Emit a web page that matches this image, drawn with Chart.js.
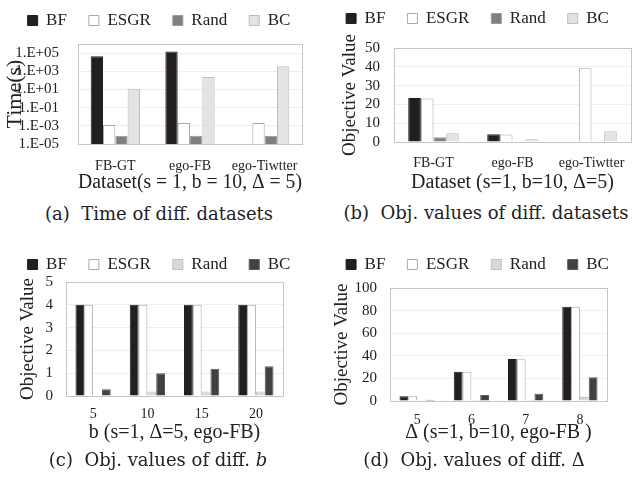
<!DOCTYPE html>
<html>
<head>
<meta charset="utf-8">
<script src="https://cdn.jsdelivr.net/npm/chart.js"></script>
<style>
  body { margin: 0; background: #fff; width: 637px; height: 478px; position: relative; overflow: hidden; }
  .panel { position: absolute; }
  .cap { position: absolute; font-family: "DejaVu Serif", serif; font-size: 18px; color: #222; white-space: pre; transform: translate(-50%, -50%); }
</style>
</head>
<body>
<div class="panel" style="left:0;top:0;width:318px;height:200px"><canvas id="chartA"></canvas></div>
<div class="panel" style="left:318px;top:0;width:319px;height:200px"><canvas id="chartB"></canvas></div>
<div class="panel" style="left:0;top:240px;width:318px;height:210px"><canvas id="chartC"></canvas></div>
<div class="panel" style="left:318px;top:240px;width:319px;height:210px"><canvas id="chartD"></canvas></div>

<div class="cap" style="left:159px;top:213px">(a)  Time of diff. datasets</div>
<div class="cap" style="left:486px;top:212px">(b)  Obj. values of diff. datasets</div>
<div class="cap" style="left:158px;top:459px">(c)  Obj. values of diff. <i>b</i></div>
<div class="cap" style="left:474px;top:459px">(d)  Obj. values of diff. Δ</div>

<script>
// data
const datasets = ['FB-GT', 'ego-FB', 'ego-Tiwtter'];
const methods = ['BF', 'ESGR', 'Rand', 'BC'];

// (a) running time, seconds (log axis)
const timeBF   = [46000, 150000, null];
const timeESGR = [0.0012, 0.002, 0.002];
const timeRand = [0.00008, 0.00008, 0.00008];
const timeBC   = [12, 230, 3600];
const timeTicks = [1e-5, 1e-3, 1e-1, 1e1, 1e3, 1e5];

// (b) objective values per dataset
const objBF   = [23.4, 4.1, 0];
const objESGR = [23.2, 4.0, 39.2];
const objRand = [2.5, 0, 0];
const objBC   = [4.6, 1.4, 5.7];

// (c) objective values vs b
const bValues = ['5', '10', '15', '20'];
const bBF   = [4, 4, 4, 4];
const bESGR = [4, 4, 4, 4];
const bRand = [0, 0.2, 0.2, 0.2];
const bBC   = [0.3, 1.0, 1.2, 1.3];

// (d) objective values vs delta
const dValues = ['5', '6', '7', '8'];
const dBF   = [4.1, 25.8, 37.2, 83.5];
const dESGR = [4.1, 25.8, 37.0, 83.3];
const dRand = [0, 0.9, 1.0, 3.5];
const dBC   = [1.2, 5.3, 6.5, 21.1];

const FONT = '"Liberation Serif", "Times New Roman", serif';
Chart.defaults.font.family = FONT;
Chart.defaults.color = '#222';
Chart.defaults.animation = false;

function f(size) { return { family: FONT, size: size }; }

// colours for the two colour schemes
const schemeTop = [
  { bg: '#231f20', bd: '#231f20' },
  { bg: '#ffffff', bd: '#a9a9a9' },
  { bg: '#7f7f7f', bd: '#9a9a9a' },
  { bg: '#e3e3e3', bd: '#bdbdbd' }
];
const schemeBottom = [
  { bg: '#231f20', bd: '#231f20' },
  { bg: '#ffffff', bd: '#a9a9a9' },
  { bg: '#d9d9d9', bd: '#c0c0c0' },
  { bg: '#414141', bd: '#5a5a5a' }
];

function makeSets(series, scheme) {
  return series.map((vals, i) => ({
    label: methods[i],
    data: vals,
    backgroundColor: scheme[i].bg,
    borderColor: scheme[i].bd,
    borderWidth: 1,
    borderSkipped: 'start'
  }));
}

// frame round the plot area
const frame = {
  id: 'frame',
  afterDraw(chart) {
    const a = chart.chartArea, ctx = chart.ctx;
    ctx.save();
    ctx.strokeStyle = '#c6c6c6';
    ctx.lineWidth = 1;
    ctx.strokeRect(Math.round(a.left) + 0.5, Math.round(a.top) + 0.5,
                   Math.round(a.right - a.left), Math.round(a.bottom - a.top));
    ctx.restore();
  }
};

function legendHeight(h) {
  return {
    id: 'legendHeight',
    beforeInit(chart) {
      const fit = chart.legend.fit;
      chart.legend.fit = function () {
        fit.bind(chart.legend)();
        this.height = h;
      };
    }
  };
}

function makeChart(id, o) {
  return new Chart(document.getElementById(id), {
    type: 'bar',
    data: { labels: o.labels, datasets: makeSets(o.series, o.scheme) },
    options: {
      responsive: true,
      maintainAspectRatio: false,
      layout: { padding: { left: 0, right: 0, top: o.padTop, bottom: 0 } },
      datasets: { bar: { categoryPercentage: o.catPct, barPercentage: 1 } },
      plugins: {
        tooltip: { enabled: false },
        legend: {
          position: 'top',
          labels: {
            boxWidth: 10, boxHeight: 10, padding: 22,
            font: f(17), color: '#222'
          }
        }
      },
      scales: {
        x: {
          grid: { display: false },
          border: { display: false },
          ticks: { font: f(14), padding: o.xTickPad, color: '#222', autoSkip: false, maxRotation: 0 },
          title: { display: true, text: o.xTitle, font: f(20), color: '#222',
                   padding: { top: 0, bottom: o.xTitlePad } },
          afterFit: s => { s.height = o.xHeight; }
        },
        y: o.y,
        // empty margin on the right of the plot
        yRight: {
          position: 'right',
          grid: { display: false },
          border: { display: false },
          ticks: { display: false },
          afterFit: s => { s.width = o.padRight; }
        }
      }
    },
    plugins: [frame, legendHeight(o.legendH)]
  });
}

function linearY(max, step, tickPad, titlePad) {
  return {
    min: 0, max: max,
    grid: { color: '#eeeeee', drawTicks: false },
    border: { display: false },
    ticks: { stepSize: step, font: f(15), padding: tickPad, color: '#222', autoSkip: false },
    title: { display: true, text: 'Objective Value', font: f(19), color: '#222',
             padding: { top: titlePad, bottom: 0 } }
  };
}

// (a)
makeChart('chartA', {
  labels: datasets,
  series: [timeBF, timeESGR, timeRand, timeBC],
  scheme: schemeTop,
  catPct: 0.66,
  padRight: 16, padTop: -10, legendH: 54,
  xTitle: 'Dataset(s = 1, b = 10, Δ = 5)', xTickPad: 6, xTitlePad: 5, xHeight: 56,
  y: {
    type: 'logarithmic', min: 1e-5, max: 1e6,
    grid: { color: '#eeeeee', drawTicks: false },
    border: { display: false },
    afterBuildTicks: s => { s.ticks = timeTicks.map(v => ({ value: v })); },
    ticks: {
      font: f(15), padding: 19, color: '#222', autoSkip: false,
      callback: v => {
        const e = Math.round(Math.log10(v));
        return '1.E' + (e < 0 ? '-' : '+') + String(Math.abs(e)).padStart(2, '0');
      }
    },
    title: { display: true, text: 'Time(s)', font: f(22), color: '#222',
             padding: { top: 2, bottom: 0 } },
    afterFit: s => { s.width = 78; }
  }
});

// (b)
const yB = linearY(50, 10, 14, 21);
yB.afterFit = s => { s.width = 76; };
makeChart('chartB', {
  labels: datasets,
  series: [objBF, objESGR, objRand, objBC],
  scheme: schemeTop,
  catPct: 0.64,
  padRight: 6, padTop: -12, legendH: 60,
  xTitle: 'Dataset (s=1, b=10, Δ=5)', xTickPad: 5, xTitlePad: 5, xHeight: 58,
  y: yB
});

// (c)
const yC = linearY(5, 1, 13, 17);
yC.afterFit = s => { s.width = 66; };
makeChart('chartC', {
  labels: bValues,
  series: [bBF, bESGR, bRand, bBC],
  scheme: schemeBottom,
  catPct: 0.65,
  padRight: 35, padTop: -6, legendH: 48,
  xTitle: 'b (s=1, Δ=5, ego-FB)', xTickPad: 2, xTitlePad: 5, xHeight: 54,
  y: yC
});

// (d)
const yD = linearY(100, 20, 13, 13);
yD.afterFit = s => { s.width = 72; };
makeChart('chartD', {
  labels: dValues,
  series: [dBF, dESGR, dRand, dBC],
  scheme: schemeBottom,
  catPct: 0.65,
  padRight: 30, padTop: -6, legendH: 54,
  xTitle: 'Δ (s=1, b=10, ego-FB )', xTickPad: 3, xTitlePad: 5, xHeight: 49,
  y: yD
});
</script>
</body>
</html>
